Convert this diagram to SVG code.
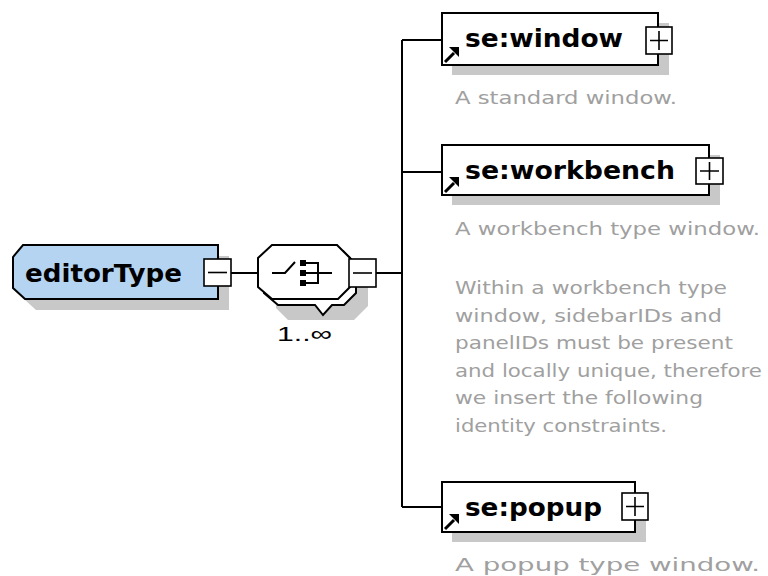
<svg xmlns="http://www.w3.org/2000/svg" xmlns:xlink="http://www.w3.org/1999/xlink" width="768" height="576" viewBox="0 0 768 576">
<style>
.bg{fill:#fff}
.box{fill:#fff;stroke:#000;stroke-width:2}
.shadow{fill:#c8c8c8}
.pm{fill:#fff;stroke:#000;stroke-width:1.6}
.sign{stroke:#000;stroke-width:1.6;fill:none}
.name{font-family:"DejaVu Sans",Verdana,sans-serif;font-weight:bold;font-size:25px;fill:#000}
.desc{font-family:"DejaVu Sans",Verdana,sans-serif;font-size:17px;fill:#a0a0a0}
.conn{stroke:#000;stroke-width:2;fill:none}
.icon{stroke:#000;stroke-width:2;fill:none}
.card{font-family:"Liberation Sans",Arial,sans-serif;font-size:21px;fill:#000}
</style>
<defs>
<g id="refArrow">
<line x1="0" y1="0" x2="9" y2="-9" stroke="#000" stroke-width="3"/>
<polygon points="4,-15 14,-15 14,-5" fill="#000"/>
</g>
</defs>
<rect class="bg" x="0" y="0" width="768" height="576"/>

<g id="connectors">
<line class="conn" x1="231" y1="273" x2="258" y2="273"/>
<line class="conn" x1="376" y1="273" x2="402" y2="273"/>
<line class="conn" x1="402" y1="40" x2="402" y2="507"/>
<line class="conn" x1="402" y1="40" x2="442" y2="40"/>
<line class="conn" x1="402" y1="172" x2="442" y2="172"/>
<line class="conn" x1="402" y1="507" x2="442" y2="507"/>
</g>

<g id="editorType">
<polygon class="shadow" points="34,256 229,256 229,310 36,310 24,299 24,268"/>
<polygon fill="#b4d4f2" stroke="#000" stroke-width="2" points="23,245 218,245 218,299 25,299 13,288 13,257"/>
<text class="name" x="25" y="282" textLength="157" lengthAdjust="spacingAndGlyphs">editorType</text>
<rect class="pm" x="204" y="259" width="27" height="27"/>
<line class="sign" x1="208" y1="272.5" x2="227" y2="272.5"/>
</g>

<g id="sequence">
<polygon class="shadow" points="282,262 352,262 368,278 368,306 354,320 288,320 276,308 276,276"/>
<polygon class="box" points="278,251 343,251 356,264 356,293 344,305 332,305 323,315 315,305 278,305 264,293 264,264"/>
<polygon class="box" points="272,245 337,245 350,258 350,287 338,299 272,299 258,287 258,258"/>
<path class="icon" d="M272 273 H285 L295 262"/>
<rect x="300" y="260" width="6" height="6" fill="#000"/>
<rect x="300" y="270" width="6" height="6" fill="#000"/>
<rect x="300" y="280" width="6" height="6" fill="#000"/>
<path class="icon" d="M306 263 H318 V283 H306 M306 273 H332"/>
<rect class="pm" x="349" y="259" width="27" height="28"/>
<line class="sign" x1="353" y1="273" x2="372" y2="273"/>
<text class="card" x="277" y="341" textLength="55" lengthAdjust="spacingAndGlyphs">1..∞</text>
</g>

<g id="se-window">
<rect class="shadow" x="452" y="23" width="217" height="52"/>
<rect class="box" x="442" y="13" width="216" height="52"/>
<rect class="pm" x="646" y="27" width="26" height="27"/>
<path class="sign" d="M650 40.5 H668 M659 31 V50"/>
<use xlink:href="#refArrow" x="445" y="62"/>
<text class="name" x="465" y="47" textLength="158" lengthAdjust="spacingAndGlyphs">se:window</text>
<text class="desc" x="455" y="104" textLength="222" lengthAdjust="spacingAndGlyphs">A standard window.</text>
</g>

<g id="se-workbench">
<rect class="shadow" x="452" y="155" width="268" height="50"/>
<rect class="box" x="442" y="145" width="267" height="50"/>
<rect class="pm" x="696" y="158" width="27" height="26"/>
<path class="sign" d="M700 171 H719 M709.5 162 V180"/>
<use xlink:href="#refArrow" x="445" y="192"/>
<text class="name" x="465" y="179" textLength="210" lengthAdjust="spacingAndGlyphs">se:workbench</text>
<text class="desc" x="455" y="235" textLength="305" lengthAdjust="spacingAndGlyphs">A workbench type window.</text>
<text class="desc" x="455" y="294" textLength="272" lengthAdjust="spacingAndGlyphs">Within a workbench type</text>
<text class="desc" x="455" y="321.5" textLength="267" lengthAdjust="spacingAndGlyphs">window, sidebarIDs and</text>
<text class="desc" x="455" y="349" textLength="278" lengthAdjust="spacingAndGlyphs">panelIDs must be present</text>
<text class="desc" x="455" y="376.5" textLength="307" lengthAdjust="spacingAndGlyphs">and locally unique, therefore</text>
<text class="desc" x="455" y="404" textLength="248" lengthAdjust="spacingAndGlyphs">we insert the following</text>
<text class="desc" x="455" y="431.5" textLength="212" lengthAdjust="spacingAndGlyphs">identity constraints.</text>
</g>

<g id="se-popup">
<rect class="shadow" x="452" y="492" width="194" height="50"/>
<rect class="box" x="442" y="482" width="193" height="50"/>
<rect class="pm" x="622" y="493" width="26" height="27"/>
<path class="sign" d="M626 506.5 H644 M635 497 V516"/>
<use xlink:href="#refArrow" x="445" y="529"/>
<text class="name" x="465" y="516" textLength="137" lengthAdjust="spacingAndGlyphs">se:popup</text>
<text class="desc" x="455" y="571" textLength="305" lengthAdjust="spacingAndGlyphs">A popup type window.</text>
</g>
</svg>
